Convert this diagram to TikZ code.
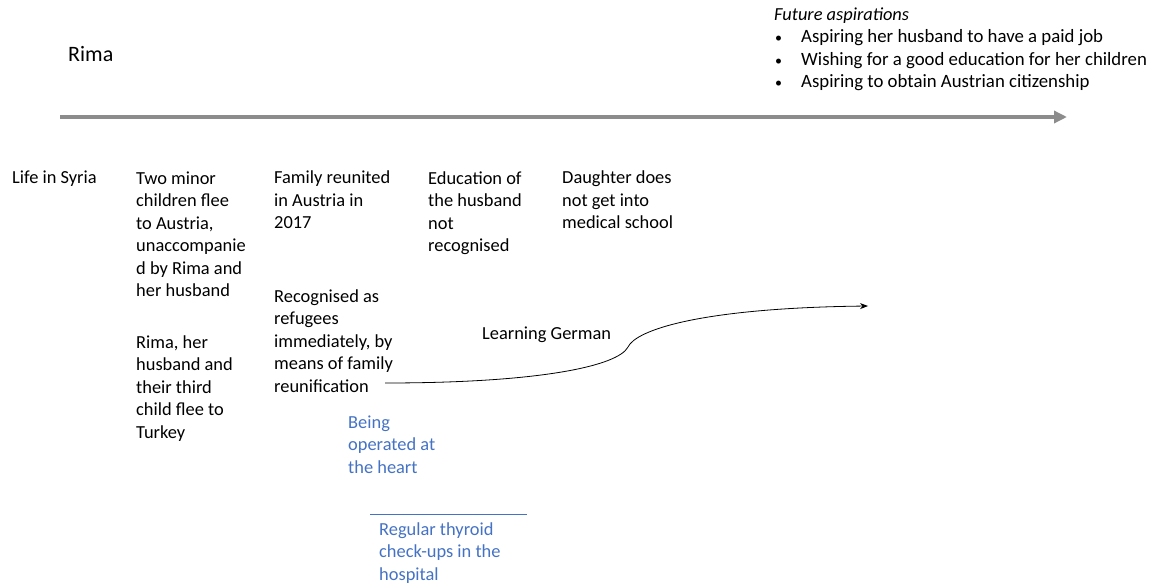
\documentclass[tikz,border=0pt]{standalone}
\usepackage{fontspec}
\setmainfont{Carlito}
\usepackage{xcolor}
\usetikzlibrary{arrows.meta}
\definecolor{lineblue}{HTML}{4472C4}
\definecolor{axisgray}{HTML}{8C8C8C}
\newcommand{\aspbullet}{\makebox[27pt][l]{\hspace{1pt}\fontsize{14}{14}\selectfont\textbullet}}
\tikzset{
  txt/.style={anchor=base west,inner sep=0pt,align=left,font=\fontsize{18.4}{22.5}\selectfont},
  bluetxt/.style={txt,text=lineblue}
}

\begin{document}
\begin{tikzpicture}[x=1pt,y=-1pt]
\useasboundingbox (0,0) rectangle (1158,585);
% nodes are anchored at the baseline of their last line
\node[txt,font=\fontsize{22}{26}\selectfont] (name) at (68,62) {Rima};
%
\node[txt,font=\fontsize{18.4}{22.5}\itshape] (future) at (774,21) {Future aspirations};
\node[txt,font=\fontsize{18.8}{22.5}\selectfont] (wishes) at (774,88) {\aspbullet Aspiring her husband to have a paid job\\
\aspbullet Wishing for a good education for her children\\
\aspbullet Aspiring to obtain Austrian citizenship};
%
\coordinate (tstart) at (60,117);
\coordinate (tend) at (1067,117);
\draw[axisgray,line width=3.5pt,-{Triangle[length=13pt,width=12pt]}] (tstart) -- (tend);
%
\node[txt] (syria) at (12,184) {Life in Syria};
\node[txt] (flee) at (136,296.5) {Two minor\\children flee\\to Austria,\\unaccompanie\\d by Rima and\\her husband};
\node[txt] (turkey) at (136,438) {Rima, her\\husband and\\their third\\child flee to\\Turkey};
\node[txt] (reunited) at (274,229) {Family reunited\\in Austria in\\2017};
\node[txt] (refugees) at (274,392) {Recognised as\\refugees\\immediately, by\\means of family\\reunification};
\node[txt] (education) at (428,251.5) {Education of\\the husband\\not\\recognised};
\node[txt] (daughter) at (562,229) {Daughter does\\not get into\\medical school};
\node[txt] (german) at (482,339) {Learning German};
%
\coordinate (gstart) at (385,383);
\coordinate (gend) at (868,306);
\draw[line width=0.8pt,-{Stealth[length=8pt,width=6pt]}] (gstart) .. controls (540,383) and (618,366) .. (628,347)
  .. controls (636,330) and (700,308) .. (gend);
%
\node[bluetxt] (heart) at (348,473) {Being\\operated at\\the heart};
\coordinate (hstart) at (370,514);
\coordinate (hend) at (527,514);
\draw[lineblue,line width=0.8pt] (hstart) -- (hend);
\node[bluetxt] (thyroid) at (379,580) {Regular thyroid\\check-ups in the\\hospital};
\end{tikzpicture}
\end{document}
